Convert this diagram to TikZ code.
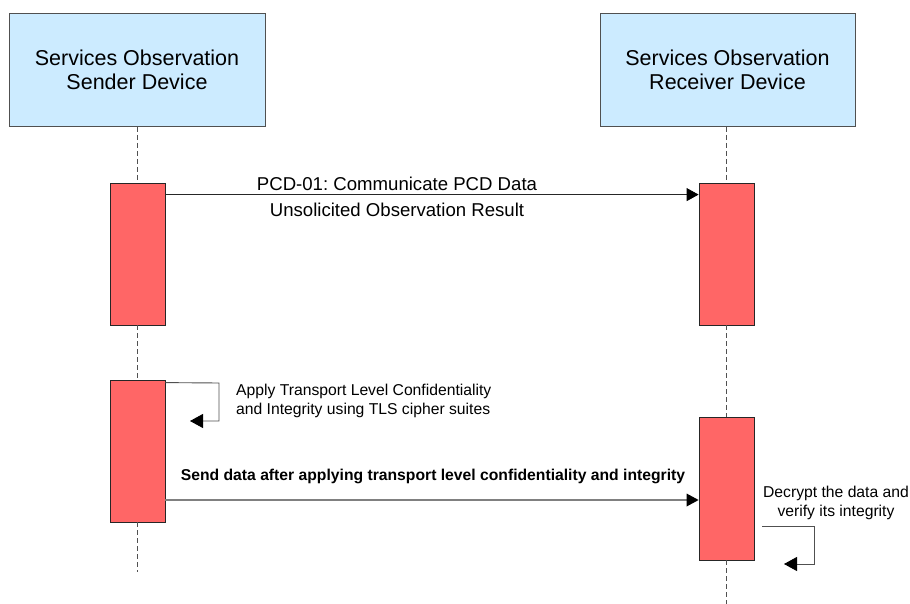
\documentclass[tikz,border=0pt]{standalone}
\usepackage{fontspec}
\setmainfont{Liberation Sans}
\usetikzlibrary{arrows.meta,calc}
\definecolor{hdr}{HTML}{CCEBFF}
\definecolor{act}{HTML}{FF6666}
\definecolor{edgec}{HTML}{505050}
\frenchspacing
\begin{document}
\begin{tikzpicture}[x=1pt,y=-1pt,
  hdrbox/.style={draw=edgec, fill=hdr, line width=0.9pt, minimum width=256pt, minimum height=113pt, inner sep=0pt, align=center, font=\fontsize{21.5}{24.5}\selectfont},
  actbar/.style={draw=black!85, fill=act, line width=0.8pt, minimum width=55pt, minimum height=142pt, inner sep=0pt},
  life/.style={draw=edgec, dashed, dash pattern=on 5pt off 3pt, line width=0.8pt},
  msg/.style={draw=black!85, line width=0.9pt, -{Triangle[length=12pt,width=13pt,color=black]}},
  msgb/.style={draw=black!50, line width=1.6pt, -{Triangle[length=12pt,width=13pt,color=black,line width=0pt]}},
  selfmsg/.style={draw=edgec, line width=0.9pt, -{Triangle[length=13pt,width=14pt,color=black]}},
  biglbl/.style={font=\fontsize{18.6}{22}\selectfont, inner sep=0pt},
  smalllbl/.style={font=\fontsize{15.7}{19}\selectfont, inner sep=0pt},
]
\useasboundingbox (0,0) rectangle (910,604);

% headers
\node[hdrbox] (sh) at (137,70) {Services Observation\\Sender Device};
\node[hdrbox, minimum width=255pt] (rh) at (727.5,70) {Services Observation\\Receiver Device};

% activation bars
\node[actbar] (sa1) at (137.5,254) {};
\node[actbar] (ra1) at (726.5,254) {};
\node[actbar] (sa2) at (137.5,451) {};
\node[actbar, minimum height=143pt] (ra2) at (726.5,488.5) {};

% lifelines
\coordinate (sEnd) at (137.5,572);
\coordinate (rEnd) at (726.5,604);
\draw[life] (sh.south -| sa1.north) -- (sa1.north);
\draw[life] (sa1.south) -- (sa2.north);
\draw[life] (sa2.south) -- (sEnd);
\draw[life] (rh.south -| ra1.north) -- (ra1.north);
\draw[life] (ra1.south) -- (ra2.north);
\draw[life] (ra2.south) -- (rEnd);

% message 1
\coordinate (m1s) at ($(sa1.north east)+(0,12)$);
\draw[msg] (m1s) -- (m1s -| ra1.west);
\node[biglbl] (l1a) at (397,184) {PCD-01: Communicate PCD Data};
\node[biglbl] (l1b) at (397,210) {Unsolicited Observation Result};

% self message sender
\coordinate (s1a) at ($(sa2.north east)+(0,3)$);
\coordinate (s1b) at (219,383);
\coordinate (s1c) at (219,421);
\coordinate (s1d) at (190,421);
\draw[selfmsg] (s1a) -- (s1b) -- (s1c) -- (s1d);
\node[smalllbl, anchor=west, align=left] (l2) at (236,401) {Apply Transport Level Confidentiality\\and Integrity using TLS cipher suites};

% message 2
\coordinate (m2s) at (sa2.east |- 0,500);
\draw[msgb] (m2s) -- (m2s -| ra2.west);
\node[smalllbl, font=\fontsize{15.7}{19}\selectfont\bfseries] (l3) at (433,476) {Send data after applying transport level confidentiality and integrity};

% self message receiver
\coordinate (r1a) at (762,526);
\coordinate (r1b) at (814,526);
\coordinate (r1c) at (814,564);
\coordinate (r1d) at (784,564);
\draw[selfmsg] (r1a) -- (r1b) -- (r1c) -- (r1d);
\node[smalllbl, align=center] (l4) at (836,503) {Decrypt the data and\\verify its integrity};
\end{tikzpicture}
\end{document}
